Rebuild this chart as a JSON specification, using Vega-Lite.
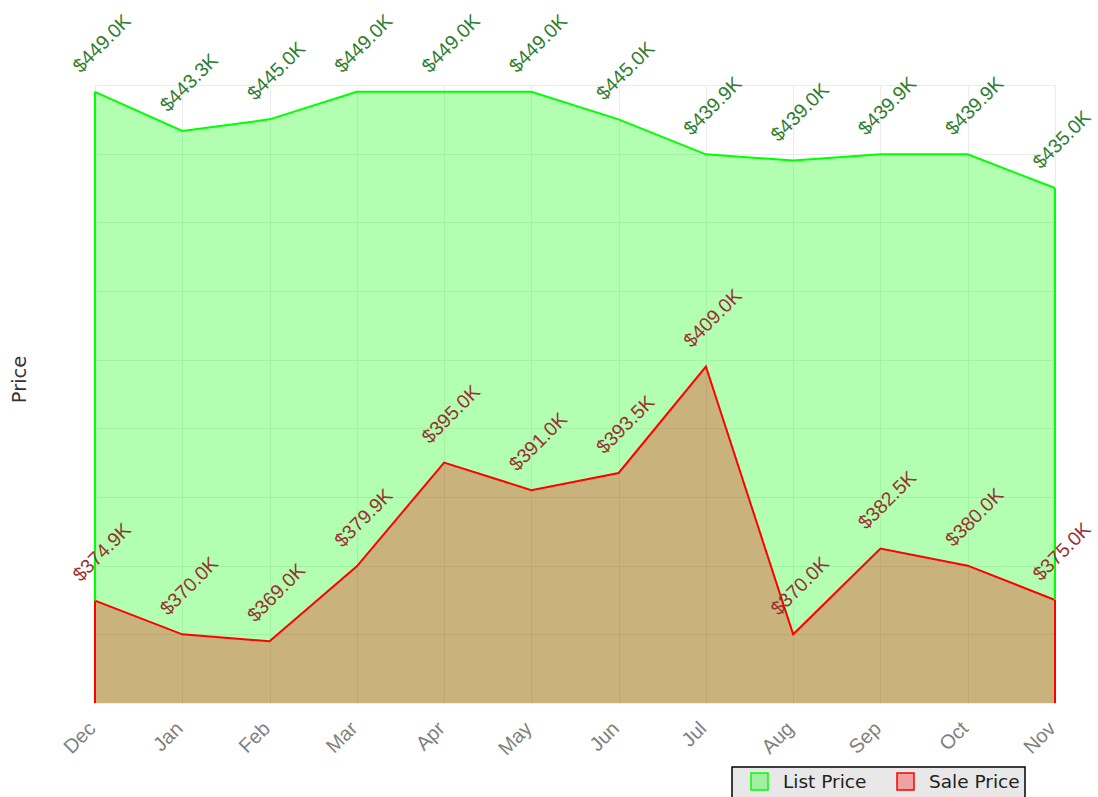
{
  "$schema": "https://vega.github.io/schema/vega-lite/v6.json",
  "width": 960,
  "height": 618,
  "autosize": {"type": "none"},
  "padding": {"left": 95, "top": 85, "right": 43, "bottom": 94},
  "background": "white",
  "config": {"view": {"stroke": null}},
  "data": {
    "values": [
      {"month": "Dec", "series": "List Price", "price": 449.0},
      {"month": "Jan", "series": "List Price", "price": 443.3},
      {"month": "Feb", "series": "List Price", "price": 445.0},
      {"month": "Mar", "series": "List Price", "price": 449.0},
      {"month": "Apr", "series": "List Price", "price": 449.0},
      {"month": "May", "series": "List Price", "price": 449.0},
      {"month": "Jun", "series": "List Price", "price": 445.0},
      {"month": "Jul", "series": "List Price", "price": 439.9},
      {"month": "Aug", "series": "List Price", "price": 439.0},
      {"month": "Sep", "series": "List Price", "price": 439.9},
      {"month": "Oct", "series": "List Price", "price": 439.9},
      {"month": "Nov", "series": "List Price", "price": 435.0},
      {"month": "Dec", "series": "Sale Price", "price": 374.9},
      {"month": "Jan", "series": "Sale Price", "price": 370.0},
      {"month": "Feb", "series": "Sale Price", "price": 369.0},
      {"month": "Mar", "series": "Sale Price", "price": 379.9},
      {"month": "Apr", "series": "Sale Price", "price": 395.0},
      {"month": "May", "series": "Sale Price", "price": 391.0},
      {"month": "Jun", "series": "Sale Price", "price": 393.5},
      {"month": "Jul", "series": "Sale Price", "price": 409.0},
      {"month": "Aug", "series": "Sale Price", "price": 370.0},
      {"month": "Sep", "series": "Sale Price", "price": 382.5},
      {"month": "Oct", "series": "Sale Price", "price": 380.0},
      {"month": "Nov", "series": "Sale Price", "price": 375.0}
    ]
  },
  "encoding": {
    "x": {
      "field": "month",
      "type": "ordinal",
      "scale": {"type": "point", "padding": 0, "domain": ["Dec","Jan","Feb","Mar","Apr","May","Jun","Jul","Aug","Sep","Oct","Nov"]},
      "axis": {
        "title": null,
        "labelAngle": -45,
        "labelFont": "Liberation Sans",
        "labelFontSize": 20,
        "labelColor": "#808080",
        "labelPadding": 15,
        "labelOffset": -10,
        "ticks": false,
        "domain": false,
        "grid": true,
        "gridColor": "#ebebeb",
        "gridWidth": 1
      }
    },
    "y": {
      "field": "price",
      "type": "quantitative",
      "stack": null,
      "scale": {"domain": [360, 450], "zero": false, "nice": false},
      "axis": {
        "title": "Price",
        "titleFont": "DejaVu Sans",
        "titleFontSize": 19.5,
        "titleFontWeight": "normal",
        "titleColor": "#333333",
        "titleX": -66,
        "titleY": 294,
        "labels": false,
        "ticks": false,
        "domain": false,
        "grid": true,
        "gridColor": "#ebebeb",
        "gridWidth": 1,
        "values": [360, 370, 380, 390, 400, 410, 420, 430, 440, 450]
      }
    }
  },
  "layer": [
    {
      "mark": {"type": "area", "fillOpacity": 0.3, "line": false, "strokeWidth": 0, "clip": true},
      "encoding": {
        "color": {
          "field": "series",
          "type": "nominal",
          "scale": {"domain": ["List Price", "Sale Price"], "range": ["#00ff00", "#ff0000"]},
          "legend": {
            "title": null,
            "orient": "none",
            "direction": "horizontal",
            "legendX": 637,
            "legendY": 682,
            "fillColor": "#e8e8e8",
            "strokeColor": "#000000",
            "padding": 5,
            "symbolType": "square",
            "symbolSize": 289,
            "symbolOffset": 13,
            "symbolStrokeColor": "#000000",
            "symbolStrokeWidth": 1.5,
            "labelFont": "DejaVu Sans",
            "labelFontSize": 18.5,
            "labelColor": "#222222",
            "labelOffset": 14,
            "columnPadding": 16,
            "encode": {
              "legend": {"update": {"strokeWidth": {"value": 1.5}}},
              "symbols": {"update": {"fillOpacity": {"value": 0.3}, "stroke": {"value": "#000000"}, "strokeWidth": {"value": 1.5}, "opacity": {"value": 1}}}
            }
          }
        }
      }
    },
    {
      "mark": {"type": "line", "strokeWidth": 2},
      "encoding": {
        "stroke": {
          "field": "series",
          "type": "nominal",
          "scale": {"domain": ["List Price", "Sale Price"], "range": ["#00ff00", "#ff0000"]},
          "legend": null
        }
      }
    },
    {
      "transform": [{"filter": "datum.month === 'Dec' || datum.month === 'Nov'"}],
      "mark": {"type": "rule", "strokeWidth": 2},
      "encoding": {
        "y2": {"datum": 360},
        "stroke": {
          "field": "series",
          "type": "nominal",
          "legend": null
        }
      }
    },
    {
      "transform": [{"calculate": "'$' + format(datum.price, '.1f') + 'K'", "as": "label"}],
      "mark": {
        "type": "text",
        "angle": -45,
        "align": "center",
        "baseline": "middle",
        "dx": 39,
        "dy": -29,
        "font": "Liberation Sans",
        "fontSize": 19.5
      },
      "encoding": {
        "text": {"field": "label"},
        "color": {
          "condition": {"test": "datum.series === 'List Price'", "value": "#2f7d2f"},
          "value": "#983232"
        }
      }
    }
  ]
}
